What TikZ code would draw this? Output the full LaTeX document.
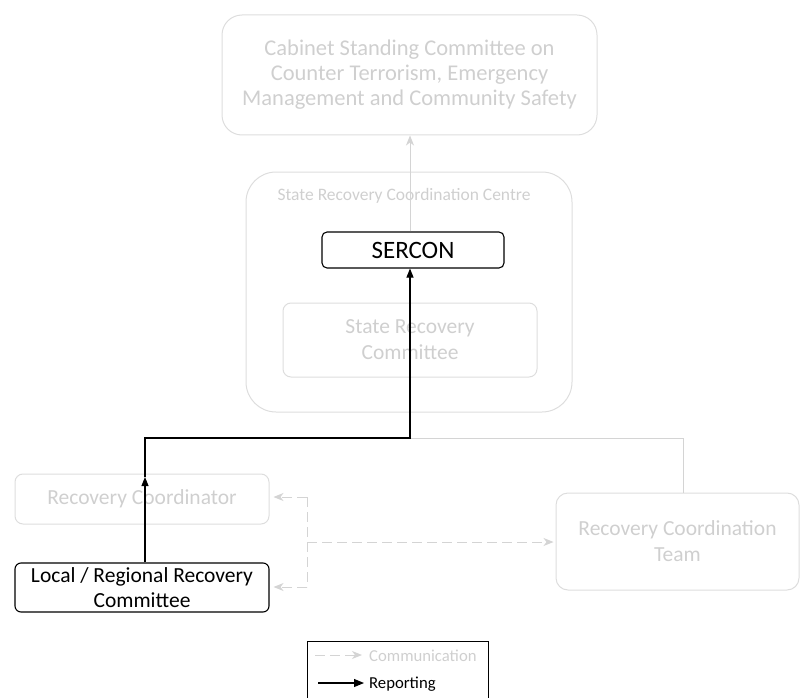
\documentclass[tikz,border=0pt]{standalone}
\usepackage{fontspec}
\setmainfont{Carlito}
\usetikzlibrary{arrows.meta}
\definecolor{faint}{HTML}{D4D4D4}
\definecolor{faintline}{HTML}{DDDDDD}
\definecolor{fainttext}{HTML}{CFCFCF}
\tikzset{
  ghostbox/.style={draw=faintline, line width=1pt, text=fainttext, align=center, inner sep=2pt},
  solidbox/.style={draw=black, line width=1.1pt, text=black, align=center, inner sep=2pt},
  bigtext/.style={font=\fontsize{22.5}{25}\selectfont},
  midtext/.style={font=\fontsize{21.5}{26}\selectfont},
  lrtext/.style={font=\fontsize{21.5}{25}\selectfont},
  smalltext/.style={font=\fontsize{17.5}{20}\selectfont},
  legtext/.style={font=\fontsize{16.7}{20}\selectfont},
  report/.style={draw=black, line width=1.1pt},
  reportarrow/.style={report, -{Triangle[length=9pt,width=7pt]}},
  commline/.style={draw=faint, line width=1pt},
  commtip/.style={-{Stealth[length=10pt,width=8pt,inset=3pt]}},
  commarrow/.style={commline, dashed, dash pattern=on 10pt off 5pt, commtip},
}
\begin{document}
\begin{tikzpicture}[x=1pt, y=-1pt]
\useasboundingbox (0,0) rectangle (800,698);

% cabinet committee at the top
\node[ghostbox, bigtext, rounded corners=20pt, minimum width=375pt, minimum height=120pt]
  (cab) at (409.5,75) {Cabinet Standing Committee on\\Counter Terrorism, Emergency\\Management and Community Safety};

% coordination centre container and its members
\node[ghostbox, rounded corners=30pt, minimum width=326pt, minimum height=240pt] (srcc) at (409,292) {};
\node[text=fainttext, smalltext] (srcclabel) at (404,196) {State Recovery Coordination Centre};
\node[ghostbox, midtext, rounded corners=8pt, minimum width=254pt, minimum height=74pt]
  (src) at (410,340) {State Recovery\\Committee};
\node[solidbox, font=\fontsize{25}{28}\selectfont, fill=white, rounded corners=5pt, minimum width=182pt, minimum height=36pt]
  (sercon) at (413,250) {SERCON};

% lower tier
\node[ghostbox, midtext, rounded corners=8pt, minimum width=254pt, minimum height=50pt]
  (rc) at (142,499) {Recovery Coordinator};
\node[solidbox, lrtext, rounded corners=6pt, minimum width=254pt, minimum height=49pt]
  (lrrc) at (142,587.5) {Local / Regional Recovery\\Committee};
\node[ghostbox, midtext, rounded corners=12pt, minimum width=243pt, minimum height=97pt]
  (rct) at (677.5,541.5) {Recovery Coordination\\Team};

% junction points
\coordinate (jl) at (145,438);
\coordinate (jm) at (410,438);
\coordinate (jr) at (683,438);
\coordinate (rcarrow) at (145,477);
\coordinate (dtop) at (307,497);
\coordinate (dmid) at (307,542);
\coordinate (dbot) at (307,587);

% SERCON reports to cabinet
\draw[commline, commtip] (sercon.north -| jm) -- (cab.south -| jm);

% team link
\draw[commline] (jm) -- (jr) -- (rct.north -| jr);

% reporting chain
\draw[reportarrow] (lrrc.north -| jl) -- (rcarrow);
\draw[reportarrow] (rcarrow) -- (jl) -- (jm) -- (sercon.south -| jm);

% communication links
\draw[commline, dashed, dash pattern=on 10pt off 5pt] (dtop) -- (dbot);
\draw[commarrow, shorten >=4pt] (dtop) -- (rc.east |- dtop);
\draw[commarrow, shorten >=4pt] (dbot) -- (lrrc.east |- dbot);
\draw[commarrow, shorten >=2pt] (dmid) -- (rct.west |- dmid);

% legend
\node[draw=black, line width=1pt, minimum width=181pt, minimum height=64pt, inner sep=0pt]
  (legend) at (397.5,673) {};
\coordinate (la1) at (315,655);
\coordinate (la2) at (362,655);
\coordinate (lb1) at (318,683);
\coordinate (lb2) at (364,683);
\draw[commarrow] (la1) -- (la2);
\draw[report, -{Triangle[length=10pt,width=8pt]}] (lb1) -- (lb2);
\node[anchor=west, text=fainttext, legtext, inner sep=0pt] (lcomm) at (369,656) {Communication};
\node[anchor=west, text=black, legtext, inner sep=0pt] (lrep) at (369,684) {Reporting};
\end{tikzpicture}
\end{document}
